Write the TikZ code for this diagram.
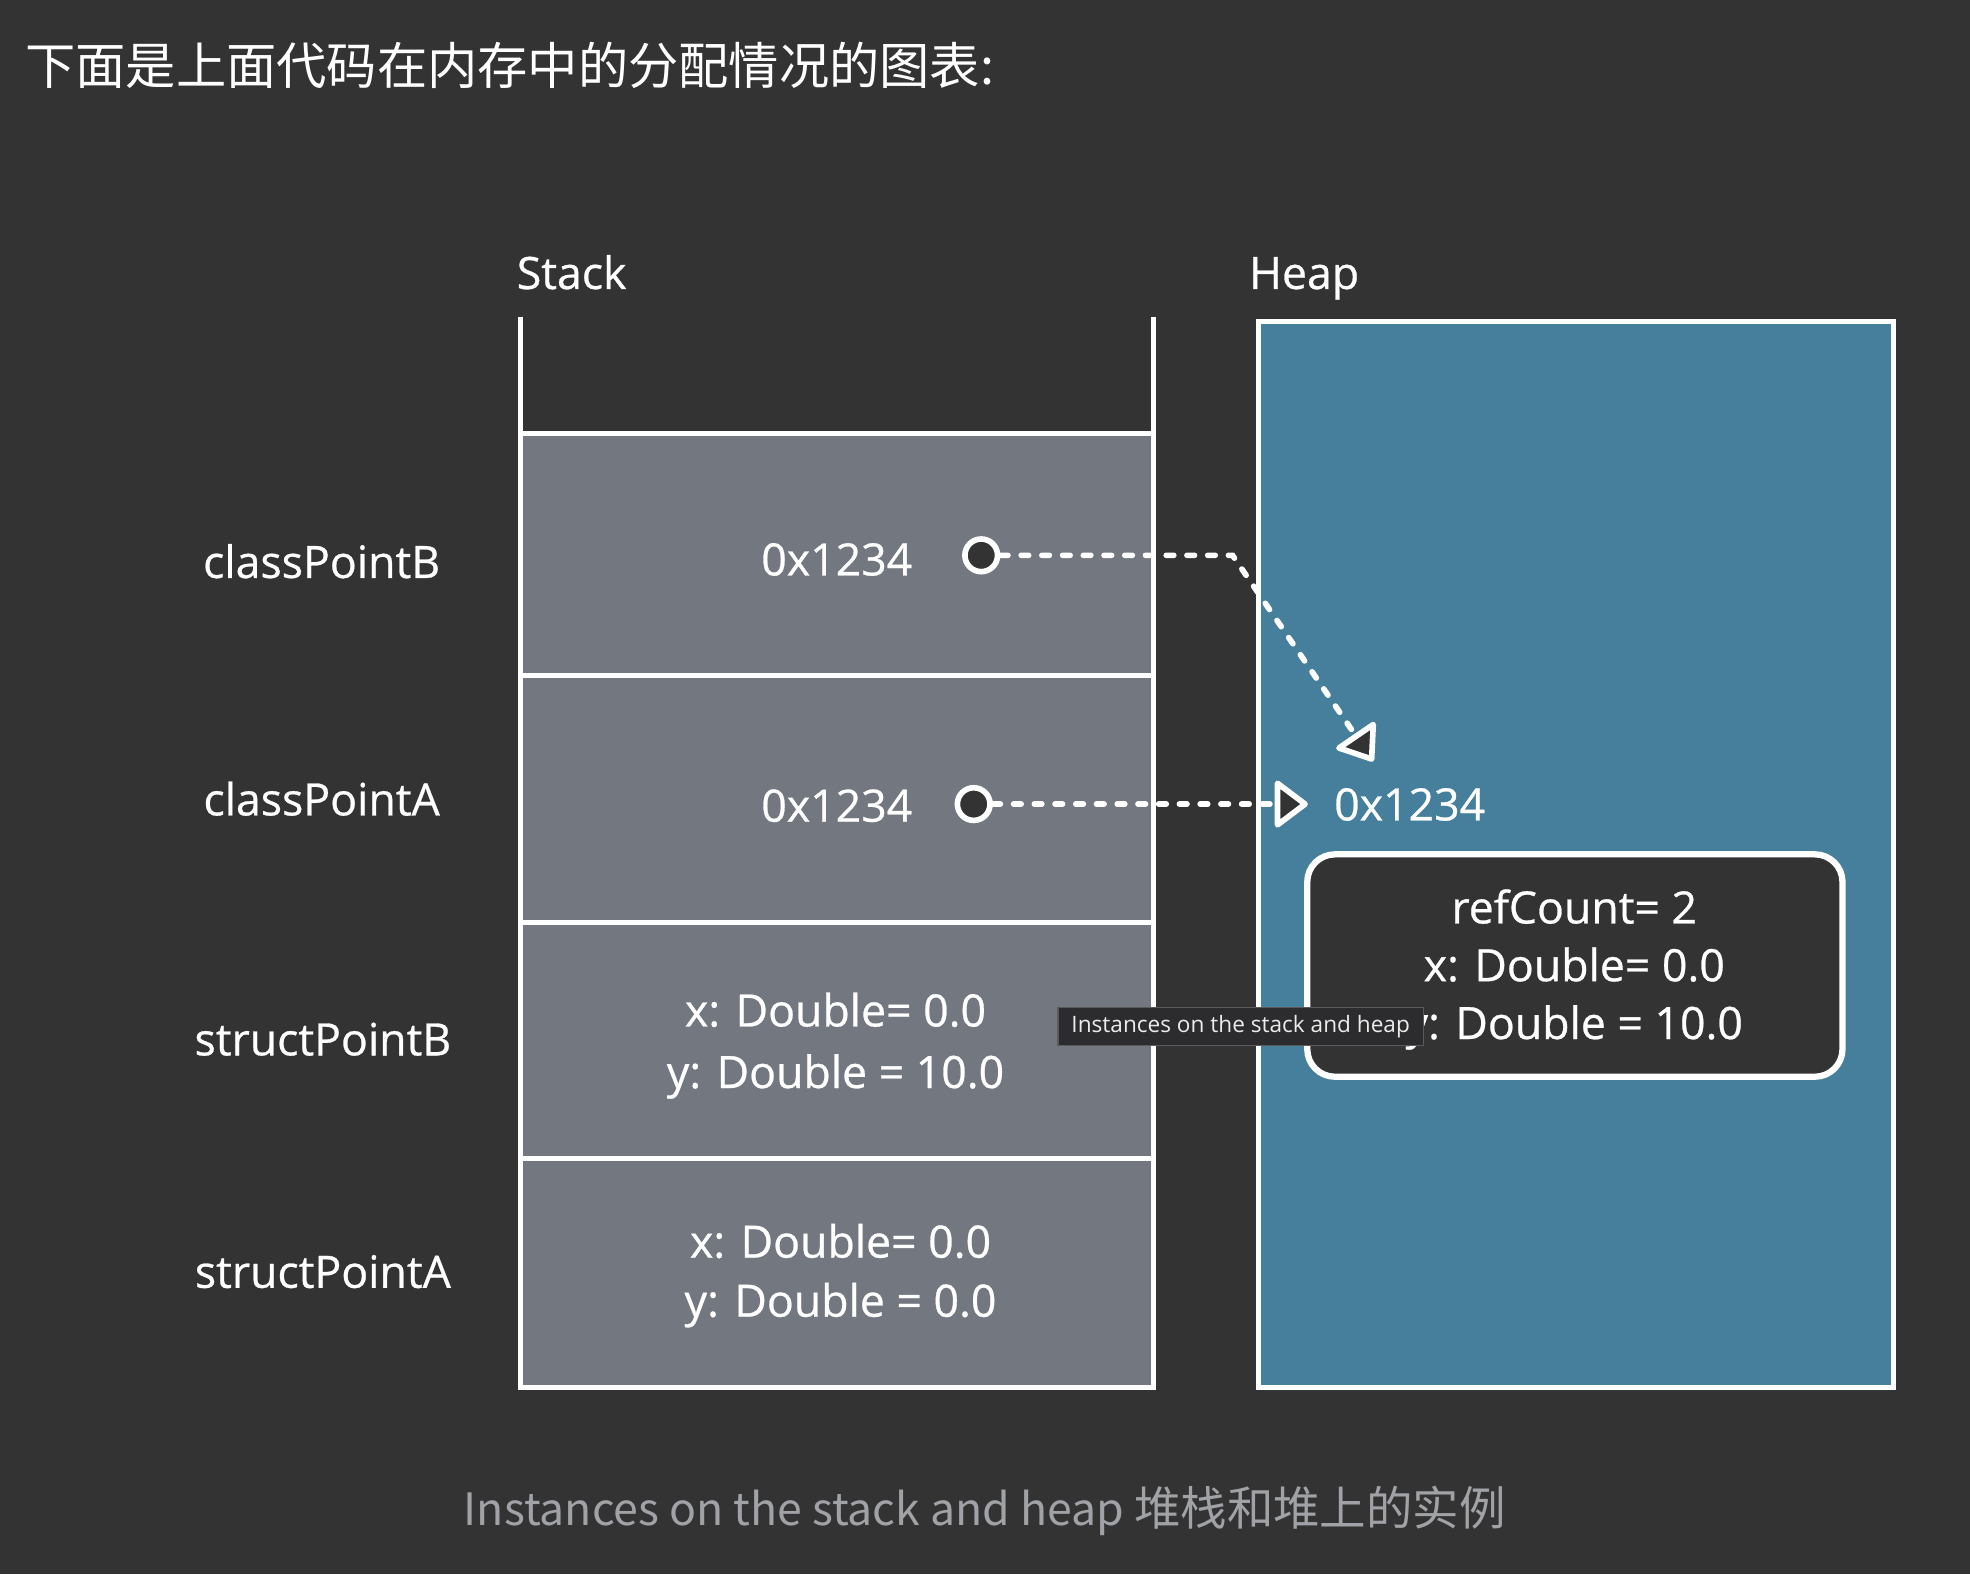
\documentclass[tikz,border=0pt]{standalone}
\usepackage{fontspec}
\setmainfont{Open Sans}
\newfontfamily\dfont{Open Sans}[FakeBold=0.6]
\newfontfamily\cjk{Noto Sans CJK SC}
\usetikzlibrary{arrows.meta}
\definecolor{bg}{HTML}{333333}
\definecolor{cellgray}{HTML}{737780}
\definecolor{heapblue}{HTML}{467F9B}
\definecolor{capgray}{HTML}{A0A2A6}
\definecolor{tipfill}{HTML}{2C2B2D}
\definecolor{tipborder}{HTML}{5A5A5A}
\begin{document}
\begin{tikzpicture}[x=1pt,y=-1pt,
  lbl/.style={font=\dfont\fontsize{35.5}{40}\selectfont, text=white, anchor=base, inner sep=0pt},
  cell/.style={draw=white, line width=4pt, fill=cellgray, minimum width=504pt, inner sep=0pt},
  ptr/.style={circle, draw=white, line width=4.5pt, fill=bg, minimum size=26pt, inner sep=0pt},
  ref/.style={draw=white, line width=4.5pt, dash pattern=on 6pt off 10.5pt, line cap=round,
    -{Triangle[length=28pt, width=41pt, fill=bg, round]}},
  sideline/.style={draw=white, line width=4pt},
]
\fill[bg] (0,0) rectangle (1568,1253);
\useasboundingbox (0,0) rectangle (1568,1253);

% title
\node[font=\cjk\fontsize{40}{44}\selectfont, text=white, anchor=base west, inner sep=0pt] (title) at (20,67) {下面是上面代码在内存中的分配情况的图表:};

% headers
\node[lbl] (stackhdr) at (455,230) {Stack};
\node[lbl] (heaphdr) at (1038,230) {Heap};

% heap
\node[draw=white, line width=4pt, fill=heapblue, minimum width=505pt, minimum height=848pt, inner sep=0pt] (heap) at (1254.5,680) {};

% stack cells
\node[cell, minimum height=193pt] (c1) at (666,441.5) {};
\node[cell, minimum height=196pt] (c2) at (666,636) {};
\node[cell, minimum height=188pt] (c3) at (666,828) {};
\node[cell, minimum height=182pt] (c4) at (666,1013) {};
\coordinate (stl) at (414,252);
\coordinate (str) at (918,252);
\draw[sideline] (stl) -- (stl |- c1.north);
\draw[sideline] (str) -- (str |- c1.north);

% row labels
\node[lbl] (lb1) at (256,460) {classPointB};
\node[lbl] (lb2) at (256,649) {classPointA};
\node[lbl] (lb3) at (257,840) {structPointB};
\node[lbl] (lb4) at (257,1025) {structPointA};

% cell texts
\node[lbl] (v1) at (666,458) {0x1234};
\node[lbl] (v2) at (666,654) {0x1234};
\node[lbl] (v3a) at (665,817) {x: Double= 0.0};
\node[lbl] (v3b) at (665,866) {y: Double = 10.0};
\node[lbl] (v4a) at (669,1001) {x: Double= 0.0};
\node[lbl] (v4b) at (669,1048) {y: Double = 0.0};

% heap object
\node[lbl] (haddr) at (1122,653) {0x1234};
\node[draw=white, line width=5pt, fill=bg, rounded corners=22pt, minimum width=426pt, minimum height=177pt, inner sep=0pt] (obj) at (1253.5,768.5) {};
\node[lbl] (o1) at (1253,735) {refCount= 2};
\node[lbl] (o2) at (1253,781) {x: Double= 0.0};
\node[lbl] (o3) at (1253,827) {y: Double = 10.0};

% pointers
\node[ptr] (p1) at (781,442) {};
\node[ptr] (p2) at (775,640) {};
\coordinate (k1) at (981,442);
\coordinate (t1) at (1093,606);
\coordinate (t2) at (1041,640);
\draw[ref] (p1.east) -- (k1) -- (t1);
\draw[ref] (p2.east) -- (t2);

% tooltip
\node[draw=tipborder, line width=1pt, fill=tipfill, minimum width=291pt, minimum height=30pt, inner sep=0pt,
  text=white!92!black, font=\fontsize{18}{20}\selectfont] (tip) at (987.5,817) {Instances on the stack and heap};

% caption
\node[anchor=base west, inner sep=0pt, text=capgray, font=\cjk\fontsize{35.5}{40}\selectfont] (cap) at (369,1214) {Instances on the stack and heap {\fontsize{37}{40}\selectfont 堆栈和堆上的实例}};
\end{tikzpicture}
\end{document}
